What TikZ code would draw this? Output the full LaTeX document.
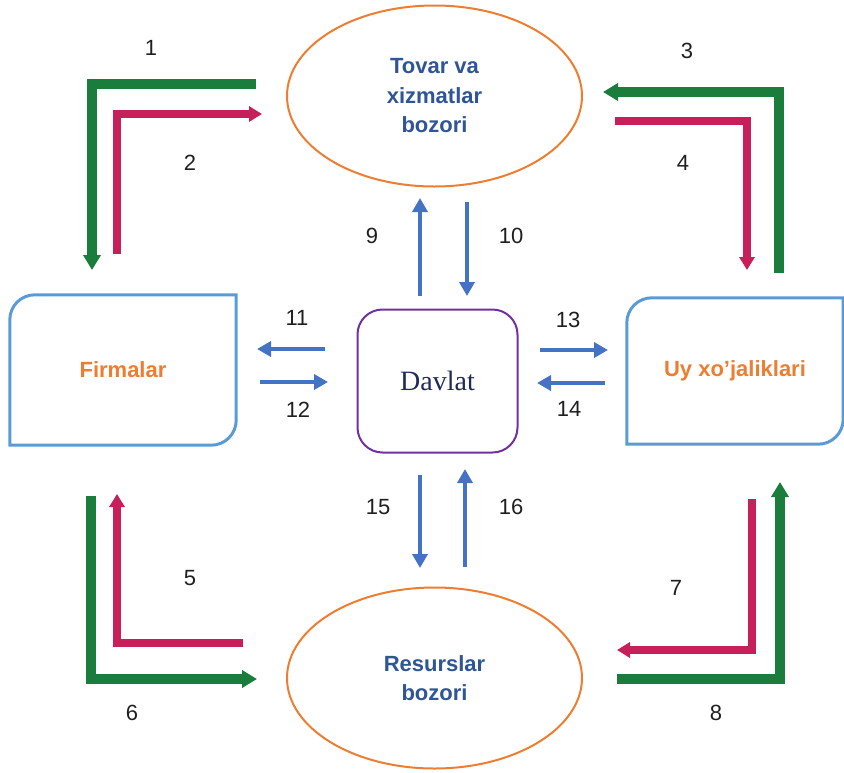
\documentclass[tikz,border=0pt]{standalone}
\usepackage{fontspec}
\setmainfont{Liberation Sans}
\newfontfamily\davlatfont{Liberation Serif}
\usepackage{tikz}
\usetikzlibrary{positioning}
\usetikzlibrary{shapes.geometric}
\usetikzlibrary{arrows.meta}
\pgfdeclarelayer{nodelayer}
\pgfdeclarelayer{edgelayer}
\pgfsetlayers{nodelayer,edgelayer,main}
\definecolor{goodsgreen}{HTML}{1A7D3C}
\definecolor{moneyred}{HTML}{C61F5A}
\definecolor{govblue}{HTML}{4472C4}
\definecolor{marketorange}{HTML}{ED7D31}
\definecolor{markettext}{HTML}{2F5597}
\definecolor{agentblue}{HTML}{5B9BD5}
\definecolor{statepurple}{HTML}{7030A0}
\definecolor{statetext}{HTML}{1F2A5C}
\tikzset{
  market/.style={ellipse, draw=marketorange, line width=2pt, minimum width=295pt,
    minimum height=181pt, inner sep=0pt, align=center, text=markettext,
    font=\fontsize{22}{29.5}\selectfont\bfseries},
  agent/.style={rectangle, inner sep=0pt, text=marketorange,
    font=\fontsize{22}{26}\selectfont\bfseries},
  agentline/.style={draw=agentblue, line width=3pt},
  state/.style={rectangle, rounded corners=25pt, draw=statepurple, line width=2pt,
    minimum width=160pt, minimum height=143pt, text=statetext,
    font=\davlatfont\fontsize{28}{32}\selectfont},
  num/.style={text=black!88, inner sep=0pt, font=\fontsize{22}{24}\selectfont},
  goods/.style={draw=goodsgreen, line width=10pt, line join=miter,
    -{Triangle[width=17pt,length=15pt]}},
  money/.style={draw=moneyred, line width=7.5pt, line join=miter,
    -{Triangle[width=15pt,length=13pt]}},
  gov/.style={draw=govblue, line width=4.5pt, -{Triangle[width=15pt,length=14pt]}}
}

\begin{document}
\begin{tikzpicture}[x=1pt, y=-1pt]
  \useasboundingbox (0, 0) rectangle (844, 772);
  \begin{pgfonlayer}{nodelayer}
    \node [market] (goodsmkt) at (434.5, 96) {Tovar va\\xizmatlar\\bozori};
    \node [market] (resmkt) at (434.5, 678) {Resurslar\\bozori};
    \node [agent, minimum width=226pt, minimum height=150pt] (firms) at (123, 370) {Firmalar};
    \node [agent, minimum width=216pt, minimum height=146pt] (homes) at (735, 371) {Uy xo’jaliklari};
    \node [state] (state) at (437.5, 381) {Davlat};
    % number labels
    \node [num] (n1) at (151, 48) {1};
    \node [num] (n2) at (190, 163) {2};
    \node [num] (n3) at (687, 51) {3};
    \node [num] (n4) at (683, 163) {4};
    \node [num] (n5) at (190, 578) {5};
    \node [num] (n6) at (132, 713) {6};
    \node [num] (n7) at (676, 588) {7};
    \node [num] (n8) at (716, 713) {8};
    \node [num] (n9) at (372, 236) {9};
    \node [num] (n10) at (511, 236) {10};
    \node [num] (n11) at (297, 318) {11};
    \node [num] (n12) at (298, 410) {12};
    \node [num] (n13) at (568, 320) {13};
    \node [num] (n14) at (569, 409) {14};
    \node [num] (n15) at (378, 507) {15};
    \node [num] (n16) at (511, 507) {16};
    % arrow ends
    \coordinate (1a) at (256, 84);
    \coordinate (1b) at (92, 270);
    \coordinate (2a) at (117, 254);
    \coordinate (2b) at (262, 114);
    \coordinate (3a) at (779, 273);
    \coordinate (3b) at (603, 92);
    \coordinate (4a) at (615, 121);
    \coordinate (4b) at (747, 270);
    \coordinate (5a) at (243, 643);
    \coordinate (5b) at (117, 494);
    \coordinate (6a) at (91, 496);
    \coordinate (6b) at (257, 679);
    \coordinate (7a) at (752, 499);
    \coordinate (7b) at (617, 650);
    \coordinate (8a) at (617, 679);
    \coordinate (8b) at (780, 482);
    \coordinate (9a) at (420, 296);
    \coordinate (9b) at (420, 198);
    \coordinate (10a) at (467, 202);
    \coordinate (10b) at (467, 296);
    \coordinate (11a) at (325, 349);
    \coordinate (11b) at (257, 349);
    \coordinate (12a) at (260, 382);
    \coordinate (12b) at (328, 382);
    \coordinate (13a) at (540, 350);
    \coordinate (13b) at (608, 350);
    \coordinate (14a) at (605, 383);
    \coordinate (14b) at (537, 383);
    \coordinate (15a) at (420, 475);
    \coordinate (15b) at (420, 568);
    \coordinate (16a) at (465, 567);
    \coordinate (16b) at (465, 469);
  \end{pgfonlayer}
  \begin{pgfonlayer}{edgelayer}
    % outlines of the two agent boxes
    \draw [agentline] (firms.north east) [rounded corners=25pt] -- (firms.south east)
      [sharp corners] -- (firms.south west) [rounded corners=25pt] -- (firms.north west)
      [sharp corners] -- cycle;
    \draw [agentline] (homes.north east) [rounded corners=25pt] -- (homes.south east)
      [sharp corners] -- (homes.south west) [rounded corners=25pt] -- (homes.north west)
      [sharp corners] -- cycle;
    % flows
    \draw [goods] (1a) -| (1b);
    \draw [money] (2a) |- (2b);
    \draw [goods] (3a) |- (3b);
    \draw [money] (4a) -| (4b);
    \draw [money] (5a) -| (5b);
    \draw [goods] (6a) |- (6b);
    \draw [money] (7a) |- (7b);
    \draw [goods] (8a) -| (8b);
    \draw [gov] (9a) to (9b);
    \draw [gov] (10a) to (10b);
    \draw [gov] (11a) to (11b);
    \draw [gov] (12a) to (12b);
    \draw [gov] (13a) to (13b);
    \draw [gov] (14a) to (14b);
    \draw [gov] (15a) to (15b);
    \draw [gov] (16a) to (16b);
  \end{pgfonlayer}
\end{tikzpicture}
\end{document}
